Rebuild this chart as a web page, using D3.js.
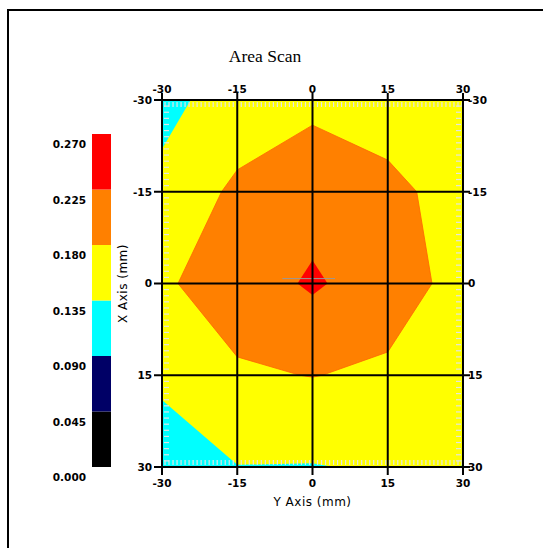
<!DOCTYPE html>
<html><head><meta charset="utf-8">
<script src="https://cdn.jsdelivr.net/npm/d3@7"></script>
<style>body{margin:0;background:#fff} svg{display:block}</style>
</head><body>
<svg id="c" width="543" height="548"></svg>
<script>
// ---------- data ----------
const chartTitle = "Area Scan";
const xAxisTitle = "Y Axis (mm)";
const yAxisTitle = "X Axis (mm)";
const tickValues = [-30, -15, 0, 15, 30];
const tickLabels = ["-30", "-15", "0", "15", "30"];
// sample grid (mm) — rows run from -30 (top) to 30 (bottom), columns from -30 to 30
const sampleX = [-30, -15, 0, 15, 30];
const sampleY = [-30, -15, 0, 15, 30];
const rowM30 = [0.127, 0.148, 0.170, 0.161, 0.150];
const rowM15 = [0.142, 0.190, 0.2065, 0.190, 0.164];
const row0   = [0.1746, 0.200, 0.23125, 0.200, 0.166];
const row15  = [0.148, 0.175, 0.181, 0.1732, 0.160];
const row30  = [0.100, 0.134, 0.133, 0.140, 0.1345];
const levels = [0.000, 0.045, 0.090, 0.135, 0.180, 0.225, 0.270];
const levelLabels = ["0.000", "0.045", "0.090", "0.135", "0.180", "0.225", "0.270"];
const levelColors = ["#000000", "#000066", "#00ffff", "#ffff00", "#ff8000", "#ff0000"];
const centerMarkX = [-6, 4.5];
const centerMarkY = -0.8;

// ---------- drawing ----------
const svg = d3.select("#c");
const tickFont = "'DejaVu Sans', sans-serif";

svg.append("rect").attr("x", 8).attr("y", 10).attr("width", 700).attr("height", 700)
  .attr("fill", "none").attr("stroke", "#000").attr("stroke-width", 2);

svg.append("text").attr("x", 265).attr("y", 62).attr("text-anchor", "middle")
  .attr("font-family", "'Liberation Serif', serif").attr("font-size", 17.5)
  .text(chartTitle);

const xs = d3.scaleLinear().domain([-30, 30]).range([162, 463]);
const ys = d3.scaleLinear().domain([-30, 30]).range([100, 467]);

// clip
svg.append("defs").append("clipPath").attr("id", "pc").append("rect")
  .attr("x", xs(-30)).attr("y", ys(-30)).attr("width", xs(30) - xs(-30)).attr("height", ys(30) - ys(-30));

const values = [].concat(rowM30, rowM15, row0, row15, row30);
const nx = sampleX.length, ny = sampleY.length;
const dxs = sampleX[1] - sampleX[0], dys = sampleY[1] - sampleY[0];
const gridToX = c => sampleX[0] + (c - 0.5) * dxs;
const gridToY = c => sampleY[0] + (c - 0.5) * dys;
const proj = d3.geoTransform({ point(x, y) { this.stream.point(xs(gridToX(x)), ys(gridToY(y))); } });
const path = d3.geoPath(proj);

const contours = d3.contours().size([nx, ny]).smooth(true).thresholds(levels.slice(0, 6))(values);
const heat = svg.append("g").attr("clip-path", "url(#pc)");
heat.selectAll("path").data(contours).join("path")
  .attr("d", path)
  .attr("fill", d => levelColors[levels.indexOf(d.value)])
  .attr("stroke", d => d.value === 0.18 ? "#ff6400" : "none")
  .attr("stroke-width", 0.8);

// sample-position dashes along the edges
const dashes = svg.append("g").attr("stroke", "#e4e4e4").attr("stroke-width", 1.2);
d3.range(-29.4, 29.9, 0.8).forEach(v => {
  dashes.append("line").attr("x1", xs(v)).attr("x2", xs(v)).attr("y1", ys(-30) + 2).attr("y2", ys(-30) + 7);
  dashes.append("line").attr("x1", xs(v)).attr("x2", xs(v)).attr("y1", ys(30) - 7).attr("y2", ys(30) - 2);
});
d3.range(-29, 29.9, 1).forEach(v => {
  dashes.append("line").attr("y1", ys(v)).attr("y2", ys(v)).attr("x1", xs(-30) + 2).attr("x2", xs(-30) + 7);
  dashes.append("line").attr("y1", ys(v)).attr("y2", ys(v)).attr("x1", xs(30) - 7).attr("x2", xs(30) - 2);
});

// center marker line
svg.append("line").attr("x1", xs(centerMarkX[0])).attr("x2", xs(centerMarkX[1]))
  .attr("y1", ys(centerMarkY)).attr("y2", ys(centerMarkY))
  .attr("stroke", "#999").attr("stroke-width", 1);

// grid lines + ticks
const grid = svg.append("g").attr("stroke", "#000").attr("stroke-width", 2);
tickValues.forEach(t => {
  grid.append("line").attr("x1", xs(t)).attr("x2", xs(t)).attr("y1", ys(-30) - 7).attr("y2", ys(30) + 8);
  grid.append("line").attr("y1", ys(t)).attr("y2", ys(t)).attr("x1", xs(-30) - 8).attr("x2", xs(30) + 7);
});

const tl = svg.append("g").attr("font-family", tickFont).attr("font-size", 10.5).attr("font-weight", "bold").attr("fill", "#000");
tickValues.forEach((t, i) => {
  tl.append("text").attr("x", xs(t)).attr("y", ys(-30) - 7).attr("text-anchor", "middle").text(tickLabels[i]);
  tl.append("text").attr("x", xs(t)).attr("y", ys(30) + 20).attr("text-anchor", "middle").text(tickLabels[i]);
  tl.append("text").attr("x", xs(-30) - 10).attr("y", ys(t)).attr("dy", "0.36em").attr("text-anchor", "end").text(tickLabels[i]);
  tl.append("text").attr("x", xs(30) + 5).attr("y", ys(t)).attr("dy", "0.36em").attr("text-anchor", "start").text(tickLabels[i]);
});

svg.append("text").attr("x", xs(0)).attr("y", 506).attr("text-anchor", "middle")
  .attr("font-family", tickFont).attr("font-size", 12).attr("letter-spacing", 0.5).text(xAxisTitle);
svg.append("text").attr("transform", `translate(127,${ys(0)}) rotate(-90)`).attr("text-anchor", "middle")
  .attr("font-family", tickFont).attr("font-size", 12).attr("letter-spacing", 0.5).text(yAxisTitle);

// legend
const ly = d3.scaleLinear().domain([levels[0], levels[levels.length - 1]]).range([467, 134]);
const lg = svg.append("g");
levelColors.forEach((c, i) => {
  lg.append("rect").attr("x", 92).attr("width", 19)
    .attr("y", ly(levels[i + 1])).attr("height", ly(levels[i]) - ly(levels[i + 1]))
    .attr("fill", c);
});
levels.forEach((v, i) => {
  lg.append("text").attr("x", 86).attr("y", ly(v) + 14).attr("text-anchor", "end")
    .attr("font-family", tickFont).attr("font-size", 10.5).attr("font-weight", "bold")
    .text(levelLabels[i]);
});
</script>
</body></html>
